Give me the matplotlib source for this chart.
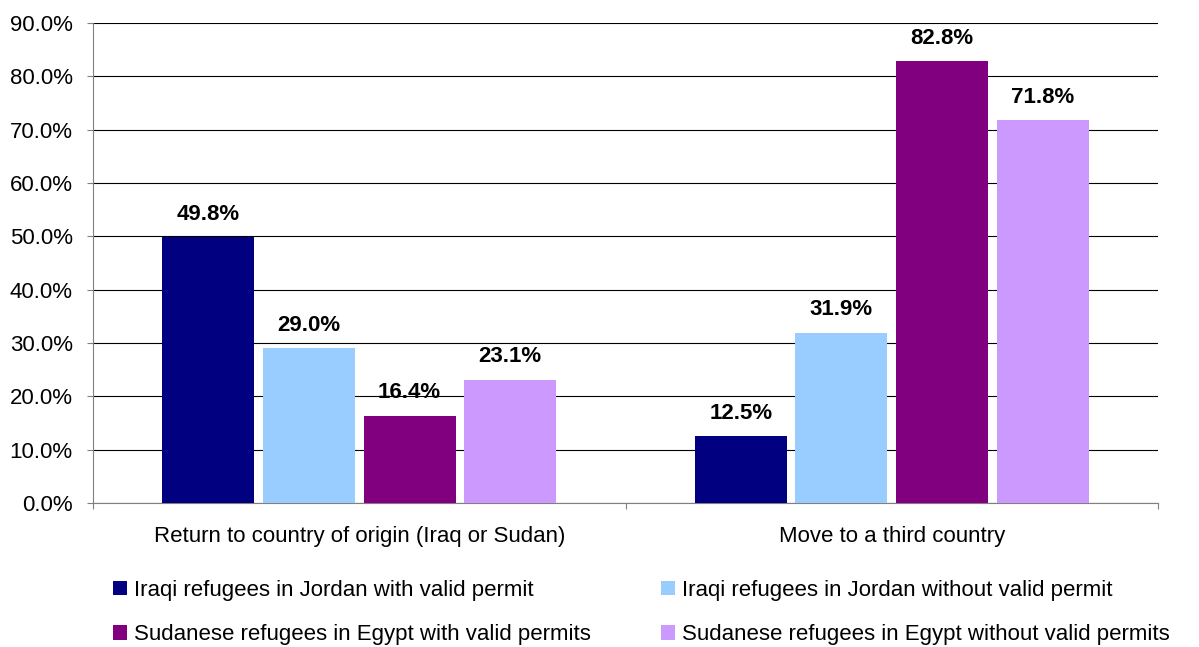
import matplotlib
matplotlib.use("Agg")
import matplotlib.pyplot as plt
import numpy as np
from matplotlib.patches import Patch

categories = ["Return to country of origin (Iraq or Sudan)", "Move to a third country"]
series_names = [
    "Iraqi refugees in Jordan with valid permit",
    "Iraqi refugees in Jordan without valid permit",
    "Sudanese refugees in Egypt with valid permits",
    "Sudanese refugees in Egypt without valid permits",
]
values = [
    [49.8, 12.5],
    [29.0, 31.9],
    [16.4, 82.8],
    [23.1, 71.8],
]
colors = ["#000080", "#99CCFF", "#800080", "#CC99FF"]
yticks = [0, 10, 20, 30, 40, 50, 60, 70, 80, 90]

FS = 16
plt.rcParams['font.family'] = ['Liberation Sans', 'DejaVu Sans']
fig = plt.figure(figsize=(11.99, 6.47), dpi=100)
W, H = 1199, 647
ax = fig.add_axes([93 / W, 1 - 503 / H, (1158 - 93) / W, (503 - 23) / H])

x = np.arange(len(categories))
step = 0.189
width = 0.173
for i, (name, vals, c) in enumerate(zip(series_names, values, colors)):
    pos = x + (i - 1.5) * step
    bars = ax.bar(pos, vals, width=width, color=c, label=name, zorder=3)
    for b, v in zip(bars, vals):
        ax.annotate(f"{v:.1f}%", (b.get_x() + b.get_width() / 2, v),
                    xytext=(0, 9), textcoords="offset points",
                    ha="center", va="bottom", fontsize=FS, fontweight="bold")

ax.set_xlim(-0.5, 1.5)
ax.set_ylim(0, 90)
ax.set_yticks(yticks)
ax.set_yticklabels([f"{t:.1f}%" for t in yticks], fontsize=FS)
ax.yaxis.grid(True, color="#000000", linewidth=0.8, zorder=0)
ax.set_axisbelow(True)

ax.set_xticks([-0.5, 0.5, 1.5])
ax.set_xticklabels([])
ax.set_xticks(x, minor=True)
ax.set_xticklabels(categories, minor=True, fontsize=FS)
ax.tick_params(axis="x", which="minor", length=0, pad=16.5)
ax.tick_params(axis="x", which="major", length=4.5, color="#808080", direction="out")
ax.tick_params(axis="y", length=4.5, color="#808080", direction="out", pad=10)

for s in ["top", "right"]:
    ax.spines[s].set_visible(False)
ax.spines["left"].set_color("#808080")
ax.spines["bottom"].set_color("#808080")

legend_kw = dict(loc="upper left", frameon=False, fontsize=FS,
                 handlelength=0.63, handleheight=0.63, handletextpad=0.3,
                 labelspacing=1.05, borderaxespad=0, borderpad=0)
for col, xpix in zip([[0, 2], [1, 3]], [113, 661]):
    handles = [Patch(facecolor=colors[i], edgecolor="none") for i in col]
    labels = [series_names[i] for i in col]
    fig.legend(handles, labels, bbox_to_anchor=(xpix / W, 1 - 580 / H), **legend_kw)

fig.savefig("out.png", dpi=100)
